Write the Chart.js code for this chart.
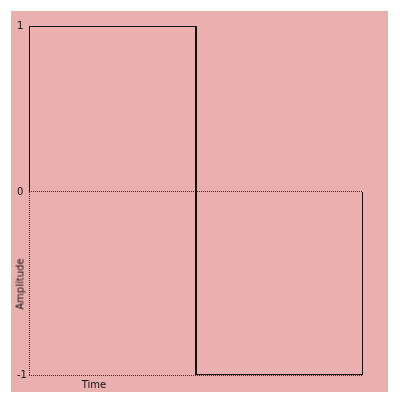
<!DOCTYPE html>
<html>
<head>
<meta charset="utf-8">
<script src="https://cdn.jsdelivr.net/npm/chart.js@4.4.1/dist/chart.umd.min.js"></script>
<style>
  html, body { margin: 0; padding: 0; background: #fff; }
  #wrap { position: relative; width: 400px; height: 400px; }
  #chart { position: absolute; left: 11px; top: 11px; background: #eab0b0; }
  .title { position: absolute; font: 10px "DejaVu Sans", sans-serif; color: #111; white-space: nowrap; }
  #xtitle { left: 94px; top: 384px; transform: translate(-50%, -50%); }
  #ytitle { left: 19.5px; top: 284px; transform: translate(-50%, -50%) rotate(-90deg); }
</style>
</head>
<body>
<div id="wrap">
  <canvas id="chart" width="377" height="381"></canvas>
  <span class="title" id="xtitle">Time</span>
  <span class="title" id="ytitle">Amplitude</span>
</div>
<script>
// square wave: one period, high then low
const timePoints = [0, 0, 1, 1, 2, 2];
const amplitude = [0, 1, 1, -1, -1, 0];
const yTicks = [-1, 0, 1];

// the zero level sits a bit above the middle in the picture
const ZERO_AT = 0.4756;

class SplitScale extends Chart.LinearScale {
    static id = 'split';
    zeroPixel() {
        return this.top + (this.bottom - this.top) * ZERO_AT;
    }
    getPixelForValue(value) {
        if (value === null || isNaN(value)) return NaN;
        const z = this.zeroPixel();
        if (value >= 0) return z - (value / this.max) * (z - this.top);
        return z + (value / this.min) * (this.bottom - z);
    }
    getValueForPixel(pixel) {
        const z = this.zeroPixel();
        if (pixel <= z) return this.max * (z - pixel) / (z - this.top);
        return this.min * (pixel - z) / (this.bottom - z);
    }
}
Chart.register(SplitScale);

const dotted = '#3a2e2e';

const ctx = document.getElementById("chart").getContext("2d");
const chart = new Chart(ctx, {
    type: 'line',
    data: {
        datasets: [{
            data: timePoints.map((t, i) => ({ x: t, y: amplitude[i] })),
            borderColor: '#111',
            borderWidth: 2,
            borderJoinStyle: 'miter',
            pointRadius: 0,
            tension: 0,
            fill: false
        }]
    },
    options: {
        responsive: false,
        animation: false,
        events: [],
        layout: { padding: { left: 6, right: 25, top: 15, bottom: 17 } },
        plugins: { legend: { display: false }, tooltip: { enabled: false } },
        scales: {
            x: {
                type: 'linear',
                min: 0,
                max: 2,
                afterBuildTicks: (scale) => { scale.ticks = [{ value: 0 }]; },
                afterFit: (scale) => { scale.height = 0; },
                ticks: { display: false },
                grid: { drawTicks: false, color: dotted, lineWidth: 1 },
                border: { display: false, dash: [1, 1] }
            },
            y: {
                type: 'split',
                min: -1,
                max: 1,
                afterBuildTicks: (scale) => { scale.ticks = yTicks.map(v => ({ value: v })); },
                afterFit: (scale) => { scale.width = 12; },
                ticks: {
                    crossAlign: 'far',
                    padding: 0,
                    color: '#111',
                    font: { family: 'DejaVu Sans', size: 10 },
                    callback: (v) => String(v)
                },
                grid: {
                    drawTicks: false,
                    lineWidth: 1,
                    color: (c) => c.tick && c.tick.value === 1 ? 'rgba(0,0,0,0)' : dotted
                },
                border: { display: false, dash: [1, 1] }
            }
        }
    }
});
</script>
</body>
</html>
